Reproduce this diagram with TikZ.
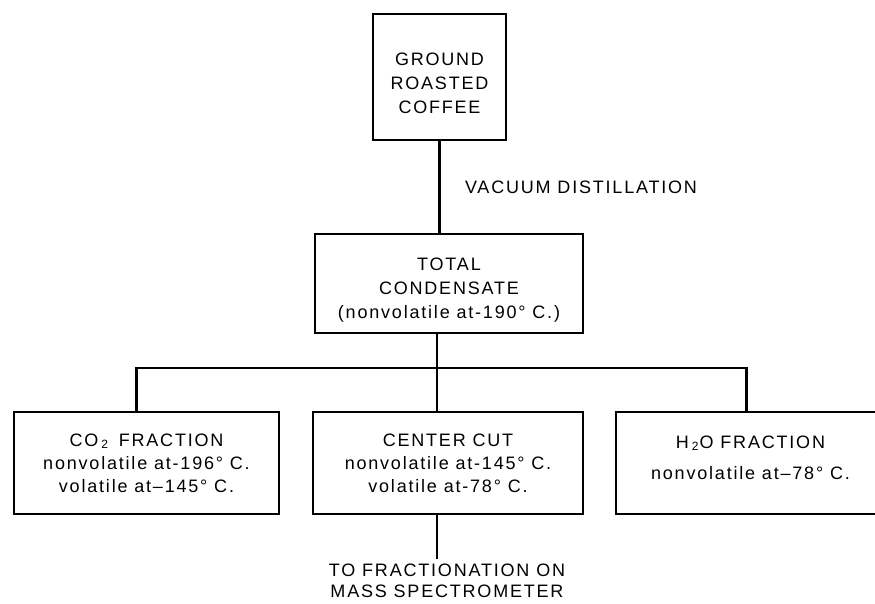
\documentclass[tikz,border=0pt]{standalone}
\usepackage{fontspec}
\setmainfont{Liberation Sans}[LetterSpace=10]
\usepackage{tikz}
\usetikzlibrary{positioning}
\tikzset{box/.style={draw,line width=1.2pt,align=center,inner sep=0pt,font=\fontsize{9}{11.5}\selectfont},
         note/.style={align=center,inner sep=2pt,font=\fontsize{9}{10.5}\selectfont}}

\begin{document}
\begin{tikzpicture}[x=0.5pt,y=-0.5pt,line width=1.2pt]
           \clip (0,0) rectangle (875,604);
           \node[box,minimum width=66.5pt,minimum height=63pt,font=\fontsize{9}{12}\selectfont,text height=36.5pt,text depth=0pt] (ground) at (439.5,77) {GROUND\\ROASTED\\COFFEE};
           \node[box,minimum width=134pt,minimum height=49.5pt,font=\fontsize{9}{12}\selectfont,text height=36.6pt] (cond) at (449,283.5) {TOTAL\\CONDENSATE\\(nonvolatile at-190° C.)};
           \node[box,minimum width=132.5pt,minimum height=51pt] (co2) at (146.5,463) {CO\,\textsubscript{2}\, FRACTION\\nonvolatile at-196° C.\\volatile at–145° C.};
           \node[box,minimum width=135pt,minimum height=51pt] (center) at (448,463) {CENTER CUT\\nonvolatile at-145° C.\\volatile at-78° C.};
           \node[box,minimum width=134.5pt,minimum height=51pt,text depth=5.5pt] (water) at (750.5,463) {H\,\textsubscript{2}O FRACTION\\[4pt]nonvolatile at–78° C.};
           \node[note] (vacuum) at (581,187) {VACUUM DISTILLATION};
           \node[note] (mass) at (447,581) {TO FRACTIONATION ON\\MASS SPECTROMETER};
           \coordinate (split) at (437,368);
            \draw (ground.south) -- (ground.south |- cond.north);
            \draw (split |- cond.south) -- (split |- center.north);
            \draw ([xshift=-5pt]co2.north) |- (split) -| ([xshift=-2pt]water.north);
            \draw (split |- center.south) -- (split |- mass.north);
        \end{tikzpicture}
\end{document}
